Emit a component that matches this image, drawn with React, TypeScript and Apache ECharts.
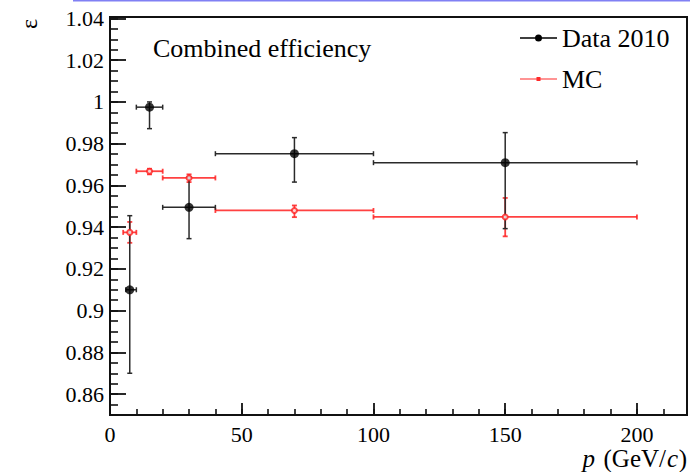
import React, { useEffect, useRef } from 'react';
import * as echarts from 'echarts';

// ---- Data 2010 (black) ----
const dataX = [7.5, 15, 30, 70, 150];
const dataXLow = [6, 10, 20, 40, 100];
const dataXHigh = [10, 20, 40, 100, 200];
const dataY = [0.91, 0.9975, 0.9495, 0.9752, 0.9709];
const dataErrUp = [0.0355, 0.0025, 0.0145, 0.0077, 0.0144];
const dataErrDown = [0.04, 0.0103, 0.015, 0.0136, 0.0316];

// ---- MC (red) ----
const mcX = [7.5, 15, 30, 70, 150];
const mcXLow = [5, 10, 20, 40, 100];
const mcXHigh = [10, 20, 40, 100, 200];
const mcY = [0.9375, 0.9668, 0.9636, 0.948, 0.9449];
const mcErrUp = [0.005, 0.0012, 0.0017, 0.0024, 0.0091];
const mcErrDown = [0.005, 0.0015, 0.002, 0.0032, 0.0093];

// ---- axes ----
const xTicks = [0, 50, 100, 150, 200];
const yTicks = [0.86, 0.88, 0.9, 0.92, 0.94, 0.96, 0.98, 1, 1.02, 1.04];
const X_MIN = 0;
const X_MAX = 219;
const X_MINOR = 10;
const Y_MIN = 0.85;
const Y_MAX = 1.0407;
const Y_MINOR = 0.005;

const SERIF = 'Liberation Serif, Times New Roman, serif';
const AXIS_COLOR = '#111111';

function errRows(x: number[], xl: number[], xh: number[], y: number[], up: number[], dn: number[]) {
  return x.map((v, i) => [v, y[i], xl[i], xh[i], y[i] - dn[i], y[i] + up[i]]);
}

function makeErrorRender(color: string, width: number, cap: number, opacity: number) {
  return (params: any, api: any) => {
    const x = api.value(0);
    const y = api.value(1);
    const p = api.coord([x, y]);
    const l = api.coord([api.value(2), y]);
    const r = api.coord([api.value(3), y]);
    const lo = api.coord([x, api.value(4)]);
    const hi = api.coord([x, api.value(5)]);
    const style = { stroke: color, lineWidth: width, opacity };
    const line = (x1: number, y1: number, x2: number, y2: number) => ({
      type: 'line',
      shape: { x1, y1, x2, y2 },
      style,
    });
    return {
      type: 'group',
      children: [
        line(l[0], p[1], r[0], p[1]),
        line(p[0], hi[1], p[0], lo[1]),
        line(l[0], p[1] - cap, l[0], p[1] + cap),
        line(r[0], p[1] - cap, r[0], p[1] + cap),
        line(p[0] - cap, hi[1], p[0] + cap, hi[1]),
        line(p[0] - cap, lo[1], p[0] + cap, lo[1]),
      ],
    };
  };
}

export default function App() {
  const ref = useRef<HTMLDivElement>(null);
  useEffect(() => {
    if (!ref.current) return;
    const chart = echarts.init(ref.current, null, { renderer: 'svg' });
    const nameText = (text: string, x: number, italic: boolean) => ({
      type: 'text',
      x,
      y: 458,
      style: {
        text,
        fontFamily: SERIF,
        fontSize: 25,
        fontStyle: italic ? 'italic' : 'normal',
        fill: '#000',
        align: 'right',
        verticalAlign: 'middle',
      },
    });
    chart.setOption({
      animation: false,
      title: {
        text: 'Combined efficiency',
        left: 153,
        top: 35,
        padding: 0,
        textStyle: { fontFamily: SERIF, fontSize: 26, fontWeight: 'normal', color: '#000' },
      },
      legend: {
        orient: 'vertical',
        left: 515,
        top: 19,
        itemWidth: 37,
        itemHeight: 7,
        itemGap: 13,
        selectedMode: false,
        textStyle: { fontFamily: SERIF, fontSize: 26, color: '#000', lineHeight: 28 },
        data: [
          {
            name: 'Data 2010',
            icon: 'path://M0,2.75H37V4.25H0Z M15,3.5A3.5,3.5 0 1,1 22,3.5A3.5,3.5 0 1,1 15,3.5Z',
            itemStyle: { color: '#000' },
          },
          {
            name: 'MC',
            icon: 'path://M18,0L18.01,0 M0,2.9H37V4.1H0Z M16.5,1.5H20.5V5.5H16.5Z M18,7L18.01,7',
            itemStyle: { color: '#ff2a2a' },
          },
        ],
      },
      grid: {
        left: 110,
        right: 3,
        top: 17,
        bottom: 57,
        show: true,
        borderColor: AXIS_COLOR,
        borderWidth: 2,
        backgroundColor: 'transparent',
      },
      xAxis: [
        {
          type: 'value',
          min: X_MIN,
          max: X_MAX,
          interval: X_MINOR,
          position: 'bottom',
          splitLine: { show: false },
          axisLine: { show: true, lineStyle: { color: AXIS_COLOR, width: 2 } },
          axisTick: { show: true, inside: true, length: 6, lineStyle: { color: AXIS_COLOR, width: 1.6 } },
          axisLabel: { customValues: xTicks, fontFamily: SERIF, fontSize: 22, color: '#000', margin: 8 },
        },
        {
          type: 'value',
          min: X_MIN,
          max: X_MAX,
          position: 'bottom',
          splitLine: { show: false },
          axisLine: { show: true, lineStyle: { color: AXIS_COLOR, width: 2 } },
          axisTick: { show: true, inside: true, length: 12, customValues: xTicks, lineStyle: { color: AXIS_COLOR, width: 1.8 } },
          axisLabel: { show: false },
        },
      ],
      yAxis: [
        {
          type: 'value',
          min: Y_MIN,
          max: Y_MAX,
          interval: Y_MINOR,
          position: 'left',
          splitLine: { show: false },
          axisLine: { show: true, lineStyle: { color: AXIS_COLOR, width: 2 } },
          axisTick: { show: true, inside: true, length: 8, lineStyle: { color: AXIS_COLOR, width: 1.6 } },
          axisLabel: { customValues: yTicks, fontFamily: SERIF, fontSize: 22, color: '#000', margin: 6 },
        },
        {
          type: 'value',
          min: Y_MIN,
          max: Y_MAX,
          position: 'left',
          offset: 0,
          splitLine: { show: false },
          axisLine: { show: true, lineStyle: { color: AXIS_COLOR, width: 2 } },
          axisTick: { show: true, inside: true, length: 16, customValues: yTicks, lineStyle: { color: AXIS_COLOR, width: 1.8 } },
          axisLabel: { show: false },
        },
      ],
      graphic: [
        {
          type: 'line',
          shape: { x1: 73, y1: 0.75, x2: 690, y2: 0.75 },
          style: { stroke: '#8080f4', lineWidth: 1.5 },
        },
        {
          type: 'text',
          x: 29,
          y: 24,
          rotation: Math.PI / 2,
          style: {
            text: 'ε',
            fontFamily: SERIF,
            fontSize: 24,
            fill: '#000',
            align: 'center',
            verticalAlign: 'middle',
          },
        },
        nameText('p', 595, true),
        nameText('(GeV/', 666, false),
        nameText('c', 678, true),
        nameText(')', 687, false),
      ],
      series: [
        {
          name: 'MC',
          type: 'custom',
          renderItem: makeErrorRender('#ff2020', 1.8, 2.5, 0.85),
          encode: { x: 0, y: 1 },
          data: errRows(mcX, mcXLow, mcXHigh, mcY, mcErrUp, mcErrDown),
          z: 2,
        },
        {
          name: 'Data 2010',
          type: 'custom',
          renderItem: makeErrorRender('#2a2a2a', 1.5, 2.5, 1),
          encode: { x: 0, y: 1 },
          data: errRows(dataX, dataXLow, dataXHigh, dataY, dataErrUp, dataErrDown),
          z: 3,
        },
        {
          name: 'MC',
          type: 'scatter',
          symbol: 'emptyCircle',
          symbolSize: 5,
          itemStyle: { color: '#ff2020', borderColor: '#ff2020', borderWidth: 1.3 },
          data: mcX.map((x, i) => [x, mcY[i]]),
          z: 4,
        },
        {
          name: 'Data 2010',
          type: 'scatter',
          symbol: 'circle',
          symbolSize: 9,
          itemStyle: { color: '#000' },
          data: dataX.map((x, i) => [x, dataY[i]]),
          z: 5,
        },
      ],
    });
    return () => chart.dispose();
  }, []);
  return <div ref={ref} style={{ position: 'absolute', left: 0, top: 0, width: 690, height: 472 }} />;
}
